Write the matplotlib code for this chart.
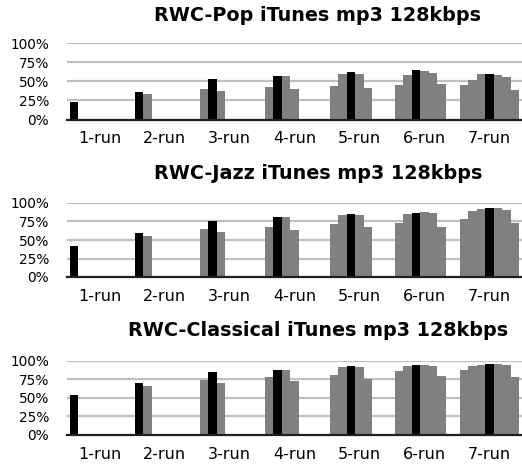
import numpy as np
import matplotlib
matplotlib.use('Agg')
import matplotlib.pyplot as plt
from matplotlib.ticker import PercentFormatter

run_labels = ['1-run', '2-run', '3-run', '4-run', '5-run', '6-run', '7-run']

# values per group (k-run has k bars), in %
pop_values = [
    [23],
    [35.5, 33],
    [39.5, 53, 37],
    [42, 56.6, 56.6, 39.5],
    [43.4, 59.2, 61.8, 59.2, 40.8],
    [44.7, 57.9, 64.9, 63.2, 60.5, 46],
    [44.7, 51.3, 59.2, 59.2, 57.9, 55.3, 38.2],
]
jazz_values = [
    [42],
    [59.5, 55.4],
    [64.9, 75.7, 60.8],
    [67.6, 81.1, 81.1, 63.5],
    [71.6, 83.8, 85.1, 83.8, 67.6],
    [73.4, 85.1, 86.5, 87.8, 86.5, 67.6],
    [78.4, 89.6, 91.9, 93.2, 93.2, 90.5, 73],
]
classical_values = [
    [53.6],
    [69.5, 65.5],
    [73.6, 84.5, 69.5],
    [78, 87.4, 87.4, 72.6],
    [81.2, 91.5, 92.8, 91.5, 75.3],
    [86.1, 92.8, 94.2, 94.2, 92.8, 79.4],
    [87.4, 93.3, 94.6, 95.5, 95.5, 94.2, 78],
]
# which bar in each group is drawn black
highlight = [0, 0, 1, 1, 2, 2, 3]

titles = ['RWC-Pop iTunes mp3 128kbps',
          'RWC-Jazz iTunes mp3 128kbps',
          'RWC-Classical iTunes mp3 128kbps']
panels = [pop_values, jazz_values, classical_values]

fig = plt.figure(figsize=(5.22, 4.65), dpi=100)

# axes boxes in pixels: (top of 100%, bottom at 0%)
boxes = [(43, 119.5), (203, 277), (360.7, 435)]
title_baselines = [21, 179, 336]
H = 465.0
W = 522.0
left = 67 / W
width = 1.0 - left

slot = 0.13
for values, title, (top, bottom), tb in zip(panels, titles, boxes, title_baselines):
    ax = fig.add_axes([left, 1 - bottom / H, width, (bottom - top) / H])
    for g, group in enumerate(values):
        for i, v in enumerate(group):
            color = 'black' if i == highlight[g] else '#808080'
            ax.bar(g - 0.454 + i * slot, v, width=slot, align='edge',
                   color=color, linewidth=0, zorder=2)
    ax.set_xlim(-0.5, 6.5)
    ax.set_ylim(0, 100)
    ax.set_yticks([0, 25, 50, 75, 100])
    ax.yaxis.set_major_formatter(PercentFormatter(decimals=0))
    ax.set_xticks(np.arange(len(run_labels)))
    ax.set_xticklabels(run_labels, fontsize=11.5)
    ax.tick_params(axis='y', length=0, pad=13, labelsize=9.8)
    ax.tick_params(axis='x', length=0, pad=8.5)
    for y in [25, 50, 75, 100]:
        ax.axhline(y, color='#c0c0c0', lw=1.6, zorder=1)
    for s in ['top', 'right', 'left']:
        ax.spines[s].set_visible(False)
    ax.spines['bottom'].set_color('#202020')
    ax.spines['bottom'].set_linewidth(1.6)
    ax.spines['bottom'].set_zorder(3)
    fig.text(318 / W, 1 - tb / H, title, ha='center', va='baseline',
             fontsize=13.8, fontweight='bold')

fig.savefig('out.png', dpi=100)
